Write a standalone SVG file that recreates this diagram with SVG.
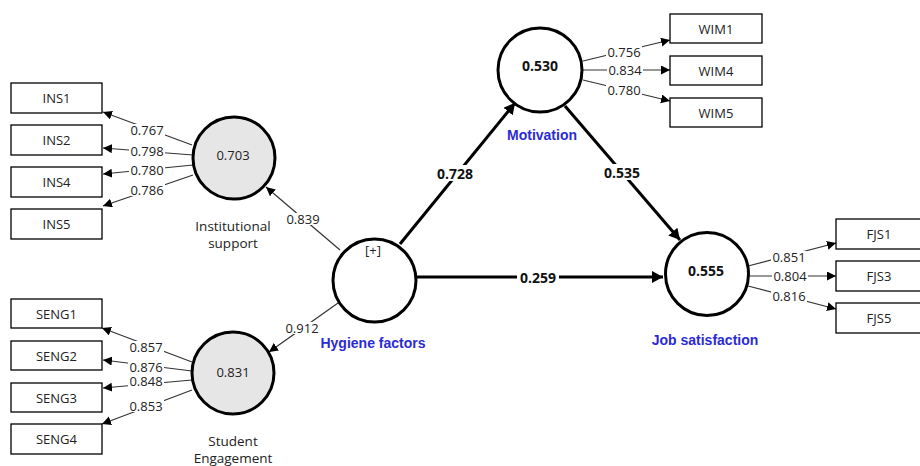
<svg xmlns="http://www.w3.org/2000/svg" width="920" height="466" viewBox="0 0 920 466">
<defs>
<style>
.bg{fill:#ffffff}
.box{fill:#ffffff;stroke:#000;stroke-width:1.3}
.btxt{font-family:"Open Sans","Liberation Sans",Arial,sans-serif;font-size:13px;fill:#222;text-anchor:middle;dominant-baseline:central}
.lv{fill:#ffffff;stroke:#000;stroke-width:3}
.lvg{fill:#e6e6e6;stroke:#000;stroke-width:3}
.num{font-family:"Open Sans","Liberation Sans",Arial,sans-serif;font-size:13px;fill:#222;text-anchor:middle;dominant-baseline:central}
.bnum{font-family:"Open Sans","Liberation Sans",Arial,sans-serif;font-size:14px;font-weight:bold;fill:#111;text-anchor:middle;dominant-baseline:central}
.name{font-family:"Liberation Sans",Arial,sans-serif;font-size:14px;font-weight:bold;fill:#2b2bd6;text-anchor:middle;dominant-baseline:central}
.gname{font-family:"Open Sans","Liberation Sans",Arial,sans-serif;font-size:13.5px;fill:#222;text-anchor:middle;dominant-baseline:central}
.thin{stroke:#333;stroke-width:1.2;fill:none;marker-end:url(#ah)}
.thick{stroke:#000;stroke-width:3;fill:none;marker-end:url(#ahb)}
.lb{fill:#ffffff}
</style>
<marker id="ah" markerUnits="userSpaceOnUse" markerWidth="10" markerHeight="10" refX="9" refY="4.5" orient="auto">
<path d="M0,0 L9,4.5 L0,9 Z" fill="#000"/>
</marker>
<marker id="ahb" markerUnits="userSpaceOnUse" markerWidth="14" markerHeight="14" refX="11" refY="6" orient="auto">
<path d="M0,0 L11,6 L0,12 Z" fill="#000"/>
</marker>
</defs>
<rect class="bg" x="0" y="0" width="920" height="466"/>

<g id="connectors">
<line class="thin" x1="192" y1="145" x2="103" y2="112"/>
<line class="thin" x1="193" y1="155" x2="103" y2="148"/>
<line class="thin" x1="193" y1="165" x2="103" y2="174"/>
<line class="thin" x1="193" y1="175" x2="103" y2="206"/>
<line class="thin" x1="192" y1="362" x2="102" y2="328"/>
<line class="thin" x1="192" y1="371" x2="103" y2="360"/>
<line class="thin" x1="192" y1="380" x2="103" y2="388"/>
<line class="thin" x1="192" y1="390" x2="102" y2="424"/>
<line class="thin" x1="583" y1="61" x2="670" y2="40"/>
<line class="thin" x1="583" y1="70" x2="670" y2="70"/>
<line class="thin" x1="583" y1="80" x2="670" y2="101"/>
<line class="thin" x1="748" y1="266" x2="836" y2="243"/>
<line class="thin" x1="748" y1="276" x2="836" y2="276"/>
<line class="thin" x1="748" y1="286" x2="836" y2="309"/>
<line class="thin" x1="340" y1="250" x2="266" y2="187"/>
<line class="thin" x1="338" y1="303" x2="269" y2="352"/>
<line class="thick" x1="400" y1="244" x2="515" y2="103"/>
<line class="thick" x1="565" y1="106" x2="680" y2="240"/>
<line class="thick" x1="416" y1="277" x2="663" y2="277"/>

<rect class="lb" x="129" y="124" width="36" height="12"/>
<rect class="lb" x="129" y="145" width="36" height="12"/>
<rect class="lb" x="129" y="164" width="36" height="12"/>
<rect class="lb" x="129" y="184" width="36" height="12"/>
<rect class="lb" x="128" y="341" width="36" height="12"/>
<rect class="lb" x="128" y="361" width="36" height="12"/>
<rect class="lb" x="128" y="375" width="36" height="12"/>
<rect class="lb" x="128" y="400" width="36" height="12"/>
<rect class="lb" x="606" y="46" width="36" height="12"/>
<rect class="lb" x="607" y="64" width="36" height="12"/>
<rect class="lb" x="606" y="84" width="36" height="12"/>
<rect class="lb" x="771" y="251" width="36" height="12"/>
<rect class="lb" x="772" y="270" width="36" height="12"/>
<rect class="lb" x="771" y="290" width="36" height="12"/>
<rect class="lb" x="285" y="213" width="36" height="12"/>
<rect class="lb" x="284" y="322" width="36" height="12"/>
<rect class="lb" x="434" y="165" width="42" height="16"/>
<rect class="lb" x="601" y="164" width="42" height="16"/>
<rect class="lb" x="517" y="269" width="42" height="16"/>

<text class="num" x="147" y="130">0.767</text>
<text class="num" x="147" y="151">0.798</text>
<text class="num" x="147" y="170">0.780</text>
<text class="num" x="147" y="190">0.786</text>
<text class="num" x="146" y="347">0.857</text>
<text class="num" x="146" y="367">0.876</text>
<text class="num" x="146" y="381">0.848</text>
<text class="num" x="146" y="406">0.853</text>
<text class="num" x="624" y="52">0.756</text>
<text class="num" x="625" y="70">0.834</text>
<text class="num" x="624" y="90">0.780</text>
<text class="num" x="789" y="257">0.851</text>
<text class="num" x="790" y="276">0.804</text>
<text class="num" x="789" y="296">0.816</text>
<text class="num" x="303" y="219">0.839</text>
<text class="num" x="302" y="328">0.912</text>
<text class="bnum" x="455" y="173">0.728</text>
<text class="bnum" x="622" y="172">0.535</text>
<text class="bnum" x="538" y="277">0.259</text>
</g>

<g id="INS1"><rect class="box" x="11" y="83" width="91" height="30"/><text class="btxt" x="56.5" y="98">INS1</text></g>
<g id="INS2"><rect class="box" x="11" y="125" width="91" height="30"/><text class="btxt" x="56.5" y="140">INS2</text></g>
<g id="INS4"><rect class="box" x="11" y="167" width="91" height="30"/><text class="btxt" x="56.5" y="182">INS4</text></g>
<g id="INS5"><rect class="box" x="11" y="209" width="91" height="30"/><text class="btxt" x="56.5" y="224">INS5</text></g>

<g id="SENG1"><rect class="box" x="11" y="299" width="91" height="29"/><text class="btxt" x="56.5" y="313.5">SENG1</text></g>
<g id="SENG2"><rect class="box" x="11" y="341" width="91" height="29"/><text class="btxt" x="56.5" y="355.5">SENG2</text></g>
<g id="SENG3"><rect class="box" x="11" y="383" width="91" height="29"/><text class="btxt" x="56.5" y="397.5">SENG3</text></g>
<g id="SENG4"><rect class="box" x="11" y="424" width="91" height="30"/><text class="btxt" x="56.5" y="439">SENG4</text></g>

<g id="WIM1"><rect class="box" x="670" y="14" width="92" height="29"/><text class="btxt" x="716" y="28.5">WIM1</text></g>
<g id="WIM4"><rect class="box" x="670" y="56" width="92" height="29"/><text class="btxt" x="716" y="70.5">WIM4</text></g>
<g id="WIM5"><rect class="box" x="670" y="98" width="92" height="29"/><text class="btxt" x="716" y="112.5">WIM5</text></g>

<g id="FJS1"><rect class="box" x="836" y="219" width="92" height="30"/><text class="btxt" x="879" y="234">FJS1</text></g>
<g id="FJS3"><rect class="box" x="836" y="261" width="92" height="30"/><text class="btxt" x="879" y="276">FJS3</text></g>
<g id="FJS5"><rect class="box" x="836" y="303" width="92" height="30"/><text class="btxt" x="879" y="318">FJS5</text></g>

<g id="institutional-support">
<circle class="lvg" cx="234" cy="158" r="41"/>
<text class="num" x="233" y="155">0.703</text>
<text class="gname" x="233" y="226">Institutional</text>
<text class="gname" x="233" y="243">support</text>
</g>
<g id="student-engagement">
<circle class="lvg" cx="233" cy="373" r="41"/>
<text class="num" x="233" y="372">0.831</text>
<text class="gname" x="233" y="441">Student</text>
<text class="gname" x="233" y="458">Engagement</text>
</g>
<g id="hygiene-factors">
<circle class="lv" cx="374.5" cy="280.5" r="41.5"/>
<text class="num" x="373" y="250">[+]</text>
<text class="name" x="373" y="343">Hygiene factors</text>
</g>
<g id="motivation">
<circle class="lv" cx="540" cy="70" r="42"/>
<text class="bnum" x="540" y="65">0.530</text>
<text class="name" x="542" y="135">Motivation</text>
</g>
<g id="job-satisfaction">
<circle class="lv" cx="707" cy="274" r="41.5"/>
<text class="bnum" x="706" y="270">0.555</text>
<text class="name" x="705" y="340">Job satisfaction</text>
</g>
</svg>
